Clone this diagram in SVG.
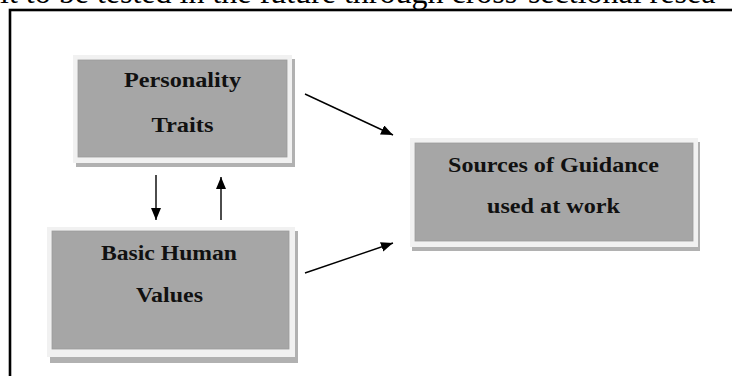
<svg xmlns="http://www.w3.org/2000/svg" width="732" height="376" viewBox="0 0 732 376">
<style>
.shadow{fill:#b1b1b1}
.outer{fill:#f1f1f1}
.inner{fill:#a6a6a6;stroke:#9c9c9c;stroke-width:0.8}
.lbl{font-family:"Liberation Serif","Times New Roman",serif;font-weight:bold;font-size:20px;fill:#111;text-anchor:middle}
.top{font-family:"Liberation Serif","Times New Roman",serif;font-size:32px;fill:#000}
.conn line{stroke:#000;stroke-width:1.4;marker-end:url(#ah)}
</style>
<defs>
<marker id="ah" viewBox="0 0 12 10" refX="12" refY="5" markerWidth="12" markerHeight="10" markerUnits="userSpaceOnUse" orient="auto">
<path d="M0,0 L12,5 L0,10 z" fill="#000"/>
</marker>
</defs>
<rect width="732" height="376" fill="#fff"/>
<text class="top" x="0" y="3">it to be tested in the future through cross-sectional resea</text>
<rect x="10" y="10" width="760" height="400" fill="none" stroke="#000" stroke-width="2.6"/>
<g id="personality">
<rect class="shadow" x="76" y="59" width="219" height="108"/>
<rect class="outer" x="73" y="55" width="219" height="108"/>
<rect class="inner" x="78" y="60" width="209" height="97"/>
<text class="lbl" x="182.5" y="87" textLength="117" lengthAdjust="spacingAndGlyphs">Personality</text>
<text class="lbl" x="182.5" y="132" textLength="62" lengthAdjust="spacingAndGlyphs">Traits</text>
</g>
<g id="basic">
<rect class="shadow" x="50" y="231" width="248" height="132"/>
<rect class="outer" x="47" y="227" width="248" height="130"/>
<rect class="inner" x="52" y="231" width="237" height="118"/>
<text class="lbl" x="169" y="260" textLength="136" lengthAdjust="spacingAndGlyphs">Basic Human</text>
<text class="lbl" x="169.5" y="302" textLength="67" lengthAdjust="spacingAndGlyphs">Values</text>
</g>
<g id="sources">
<rect class="shadow" x="412" y="142" width="288" height="109"/>
<rect class="outer" x="410" y="138" width="288" height="109"/>
<rect class="inner" x="415" y="143" width="278" height="98"/>
<text class="lbl" x="553.5" y="172" textLength="211" lengthAdjust="spacingAndGlyphs">Sources of Guidance</text>
<text class="lbl" x="553.5" y="213" textLength="133" lengthAdjust="spacingAndGlyphs">used at work</text>
</g>
<g id="connectors" class="conn">
<line x1="305" y1="94" x2="393" y2="135"/>
<line x1="305" y1="273" x2="393" y2="243"/>
<line x1="156" y1="175" x2="156" y2="220"/>
<line x1="221" y1="220" x2="221" y2="177"/>
</g>
</svg>
